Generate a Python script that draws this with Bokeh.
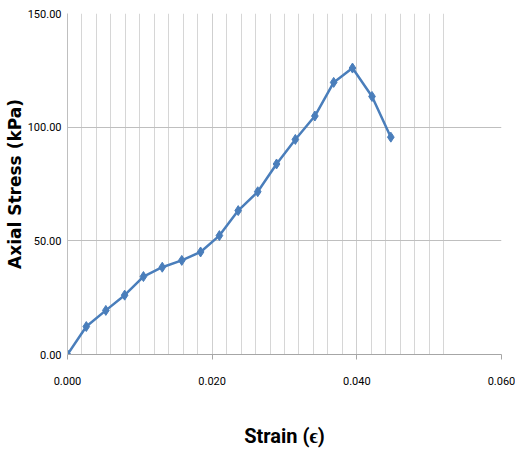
from bokeh.plotting import figure
from bokeh.models import (SingleIntervalTicker, PrintfTickFormatter, Range1d,
                          LinearAxis, FixedTicker)
from bokeh.embed import file_html
from bokeh.resources import INLINE

strain = [0.0, 0.0026, 0.0053, 0.0079, 0.0105, 0.0131, 0.0158, 0.0184, 0.0210,
          0.0236, 0.0263, 0.0289, 0.0315, 0.0342, 0.0368, 0.0394, 0.0421, 0.0447]
stress = [0.0, 12.3, 19.4, 26.1, 34.3, 38.4, 41.4, 45.1, 52.3,
          63.3, 71.6, 83.8, 94.6, 104.9, 119.7, 126.0, 113.5, 95.6]

x_title = "Strain (\u03f5)"
y_title = "Axial Stress (kPa)"

p = figure(width=515, height=461, output_backend="svg", toolbar_location=None,
           x_range=Range1d(0, 0.06), y_range=Range1d(0, 150),
           min_border_left=67, min_border_right=14, min_border_top=13, min_border_bottom=107)
p.outline_line_color = None

xax = p.xaxis[0]
yax = p.yaxis[0]
xax.ticker = SingleIntervalTicker(interval=0.02, num_minor_ticks=10)
yax.ticker = SingleIntervalTicker(interval=50, num_minor_ticks=0)
xax.formatter = PrintfTickFormatter(format="%.3f")
yax.formatter = PrintfTickFormatter(format="%.2f")

for ax in (xax, yax):
    ax.major_label_text_font = "Roboto"
    ax.major_label_text_font_size = "11px"
    ax.major_label_text_color = "#000000"
    ax.minor_tick_line_color = None

xax.axis_line_color = "#a6a6a6"
xax.major_tick_line_color = "#a6a6a6"
xax.major_tick_out = 5
xax.major_tick_in = 0
xax.major_label_standoff = 17

yax.axis_line_color = "#bfbfbf"
yax.major_tick_line_color = None
yax.major_tick_out = 0
yax.major_label_standoff = 6
yax.axis_label = y_title
yax.axis_label_text_font = "DejaVu Sans"
yax.axis_label_text_font_style = "bold"
yax.axis_label_text_font_size = "17px"
yax.axis_label_text_color = "#000000"
yax.axis_label_standoff = 0

# second, empty axis carrying only the x title (offset to the left like the original)
title_axis = LinearAxis(ticker=FixedTicker(ticks=[]), bounds=(0.0, 0.0522),
                        axis_line_color=None, major_tick_line_color=None,
                        minor_tick_line_color=None, major_tick_out=0, minor_tick_out=0,
                        major_label_standoff=0,
                        axis_label=x_title, axis_label_standoff=36,
                        axis_label_text_font="Roboto", axis_label_text_font_style="bold",
                        axis_label_text_font_size="20px", axis_label_text_color="#000000")
p.add_layout(title_axis, "below")

p.xgrid.grid_line_color = "#cfcfcf"
p.xgrid.minor_grid_line_color = "#d6d6d6"
p.ygrid.grid_line_color = "#bfbfbf"

p.line(strain, stress, line_color="#4a7ebb", line_width=2.5)
p.scatter(strain, stress, marker="diamond", size=10, fill_color="#4a7ebb",
          line_color="#4a7ebb")

open("out.html", "w").write(file_html(p, INLINE))
